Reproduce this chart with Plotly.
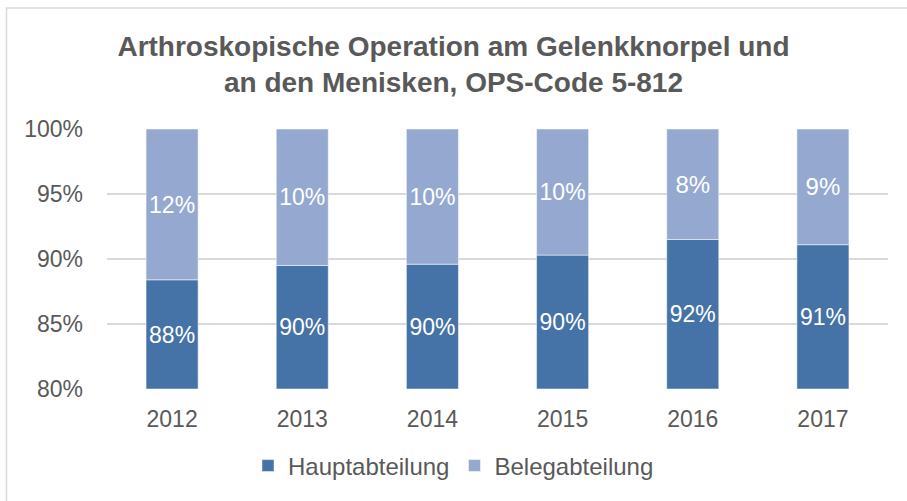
import plotly.graph_objects as go

years = ["2012", "2013", "2014", "2015", "2016", "2017"]
haupt = [88.4, 89.5, 89.6, 90.3, 91.5, 91.1]
beleg = [11.6, 10.5, 10.4, 9.7, 8.5, 8.9]
haupt_labels = ["88%", "90%", "90%", "90%", "92%", "91%"]
beleg_labels = ["12%", "10%", "10%", "10%", "8%", "9%"]
axis_min = 80
y_ticks = [80, 85, 90, 95, 100]
y_tick_labels = ["80%", "85%", "90%", "95%", "100%"]

W, H = 907, 501
L, R, T, B = 107, 19, 129, 112
pw, ph = W - L - R, H - T - B

def px(x):
    return (x - L) / pw

def py(y):
    return (H - B - y) / ph

FONT = "Liberation Sans, Arial"

fig = go.Figure()
fig.add_trace(go.Bar(
    name="Hauptabteilung", x=years, y=[v - axis_min for v in haupt], base=axis_min,
    marker=dict(color="#4673A7", line=dict(color="white", width=0.5)),
    text=haupt_labels, textposition="inside", insidetextanchor="middle",
    textfont=dict(color="white", size=24, family=FONT),
    textangle=0, width=0.4,
))
fig.add_trace(go.Bar(
    name="Belegabteilung", x=years, y=beleg, base=haupt,
    marker=dict(color="#95A9D0", line=dict(color="white", width=0.5)),
    text=beleg_labels, textposition="inside", insidetextanchor="middle",
    textfont=dict(color="white", size=24, family=FONT),
    textangle=0, width=0.4,
))

fig.update_layout(
    width=W, height=H,
    margin=dict(l=L, r=R, t=T, b=B, autoexpand=False),
    barmode="overlay",
    plot_bgcolor="white", paper_bgcolor="white",
    font=dict(family=FONT, color="#595959", size=23),
    title=dict(
        text="<b>Arthroskopische Operation am Gelenkknorpel und<br>an den Menisken, OPS-Code 5-812</b>",
        x=0.5, xanchor="center", y=1 - 56 / H, yanchor="middle",
        font=dict(size=28, color="#595959", family=FONT),
    ),
    xaxis=dict(
        showgrid=False, showline=False, ticks="", tickfont=dict(size=23),
        ticklabelstandoff=14,
    ),
    yaxis=dict(
        range=[axis_min, 100], tickvals=y_ticks, ticktext=y_tick_labels,
        showgrid=True, gridcolor="#D9D9D9", gridwidth=1.5, zeroline=False,
        showline=False, ticks="", tickfont=dict(size=23), ticklabelstandoff=23,
    ),
    legend=dict(
        orientation="h", x=0.5, xanchor="center", xref="container",
        y=1 - 466 / H, yanchor="middle", yref="container",
        font=dict(size=24), itemwidth=30, traceorder="normal",
    ),
    shapes=[dict(
        type="rect", xref="paper", yref="paper",
        x0=px(6.5), x1=px(W + 20), y0=py(H + 20), y1=py(8),
        line=dict(color="#D9D9D9", width=1.5), fillcolor="rgba(0,0,0,0)", layer="below",
    )],
)

fig.write_html(
    "out.html",
    config={"displayModeBar": False},
    post_script="document.body.style.margin='0';document.body.style.overflow='hidden';",
)
